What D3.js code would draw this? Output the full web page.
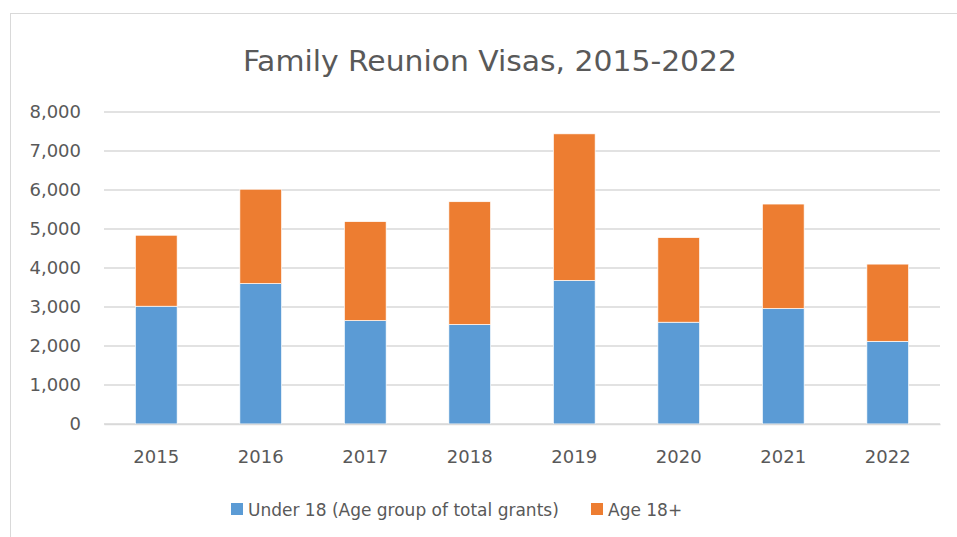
<!DOCTYPE html>
<html>
<head>
<meta charset="utf-8">
<script src="https://cdn.jsdelivr.net/npm/d3@7"></script>
<style>
  body { margin: 0; background: #fff; }
  text { font-family: "DejaVu Sans", "Open Sans", sans-serif; fill: #595959; }
</style>
</head>
<body>
<div id="container"></div>
<script>
// chart data
const years = ["2015", "2016", "2017", "2018", "2019", "2020", "2021", "2022"]
const under18 = [3020, 3600, 2650, 2550, 3680, 2610, 2960, 2120]
const age18plus = [1820, 2420, 2540, 3150, 3760, 2170, 2680, 1980]
const yTicks = [0, 1000, 2000, 3000, 4000, 5000, 6000, 7000, 8000]
const seriesNames = ["Under 18 (Age group of total grants)", "Age 18+"]
const colors = ["#5b9bd5", "#ed7d31"]

const width = 957, height = 537
const plot = { left: 104, right: 940, top: 112, bottom: 424 }

const svg = d3.select("#container").append("svg")
    .attr("width", width)
    .attr("height", height)

// outer chart border (runs past the crop on right/bottom)
svg.append("rect")
    .attr("x", 10.5).attr("y", 13.5)
    .attr("width", 980).attr("height", 560)
    .attr("fill", "none")
    .attr("stroke", "#d9d9d9")

svg.append("text")
    .attr("x", 490).attr("y", 71)
    .attr("text-anchor", "middle")
    .attr("textLength", 494)
    .attr("lengthAdjust", "spacingAndGlyphs")
    .style("font-family", "'DejaVu Sans Condensed', sans-serif")
    .style("font-size", "28px")
    .text("Family Reunion Visas, 2015-2022")

const x = d3.scaleBand()
    .domain(years)
    .range([plot.left, plot.right])
    .paddingInner(0.6)
    .paddingOuter(0.3)

const y = d3.scaleLinear()
    .domain([0, 8000])
    .range([plot.bottom, plot.top])

// gridlines
svg.append("g")
    .selectAll("line")
    .data(yTicks)
    .enter()
    .append("line")
    .attr("x1", plot.left).attr("x2", plot.right)
    .attr("y1", d => y(d)).attr("y2", d => y(d))
    .attr("stroke", "#d9d9d9")
    .attr("stroke-width", 1.3)

const yAxis = svg.append("g")
    .attr("transform", `translate(${plot.left},0)`)
    .call(d3.axisLeft(y).tickValues(yTicks).tickFormat(d3.format(",")).tickSize(0).tickPadding(23))
yAxis.select(".domain").remove()
yAxis.selectAll("text").style("font-size", "18px").attr("fill", "#595959")

const stackData = years.map((yr, i) => ({ year: yr, a: under18[i], b: age18plus[i] }))
const stacked = d3.stack().keys(["a", "b"])(stackData)

svg.append("g")
    .selectAll("g")
    .data(stacked)
    .enter()
    .append("g")
    .attr("fill", (d, i) => colors[i])
    .selectAll("rect")
    .data(d => d)
    .enter()
    .append("rect")
    .attr("x", d => x(d.data.year))
    .attr("width", x.bandwidth())
    .attr("y", d => y(d[1]))
    .attr("height", d => y(d[0]) - y(d[1]))
    .attr("stroke", "#fff")
    .attr("stroke-width", 0.7)

const xAxis = svg.append("g")
    .attr("transform", `translate(0,${plot.bottom})`)
    .call(d3.axisBottom(x).tickSize(0).tickPadding(26))
xAxis.select(".domain").attr("stroke", "#d9d9d9").attr("stroke-width", 1.3)
xAxis.selectAll("text").style("font-size", "18px").attr("fill", "#595959")

// legend
const legendX = [231, 591]
const legend = svg.append("g")
    .selectAll("g")
    .data(seriesNames)
    .enter()
    .append("g")
    .attr("transform", (d, i) => `translate(${legendX[i]},503)`)

legend.append("rect")
    .attr("width", 12).attr("height", 12)
    .attr("fill", (d, i) => colors[i])

legend.append("text")
    .attr("x", 17).attr("y", 13)
    .style("font-size", "17px")
    .text(d => d)
</script>
</body>
</html>
